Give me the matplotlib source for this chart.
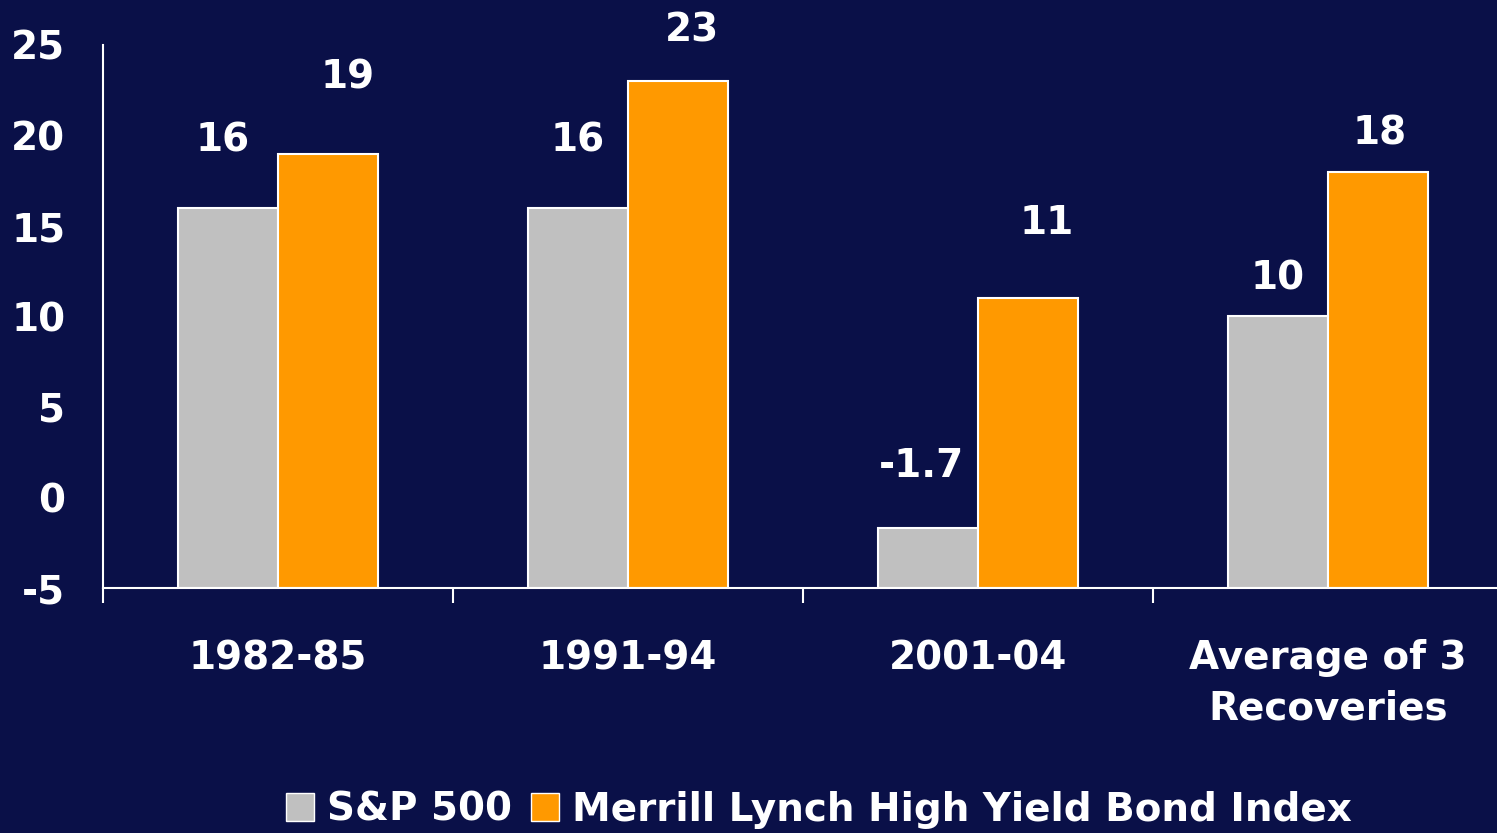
import numpy as np
import matplotlib.pyplot as plt
from matplotlib.patches import Patch

# data
kategori = ["1982-85", "1991-94", "2001-04", "Average of 3\nRecoveries"]
sp500 = [16, 16, -1.7, 10]
merrill = [19, 23, 11, 18]
label_sp = ["16", "16", "-1.7", "10"]
label_ml = ["19", "23", "11", "18"]
yticks = [-5, 0, 5, 10, 15, 20, 25]

# offset label (pixel) relatif ke puncak bar
off_sp = [(-5, 67), (0, 67), (-6, 62), (0, 38)]
off_ml = [(20, 76), (14, 51), (19, 75), (2, 38)]

bg = "#0a1048"
abu = "#c0c0c0"
oranye = "#ff9900"
dasar = -5

plt.rcParams["font.family"] = ["DejaVu Sans"]
plt.rcParams["font.weight"] = "bold"

fig = plt.figure(figsize=(14.97, 8.33), dpi=100, facecolor=bg)
ax = fig.add_axes([103 / 1497, 245 / 833, 1400 / 1497, 543 / 833])
ax.set_facecolor(bg)

x = np.arange(len(kategori))
w = 0.286
sp = np.array(sp500)
ml = np.array(merrill)
ax.bar(x - w / 2, sp - dasar, w, bottom=dasar, color=abu, edgecolor="white", linewidth=1.5)
ax.bar(x + w / 2, ml - dasar, w, bottom=dasar, color=oranye, edgecolor="white", linewidth=1.5)

for i in range(len(kategori)):
    ax.annotate(label_sp[i], (x[i] - w / 2, sp[i]), xytext=off_sp[i], textcoords="offset pixels",
                ha="center", va="center", color="white", fontsize=28, fontweight="bold")
    ax.annotate(label_ml[i], (x[i] + w / 2, ml[i]), xytext=off_ml[i], textcoords="offset pixels",
                ha="center", va="center", color="white", fontsize=28, fontweight="bold")

ax.set_xlim(-0.5, 3.5)
ax.set_ylim(-5, 25)
ax.set_yticks(yticks)
ax.set_yticklabels([str(t) for t in yticks])
ax.tick_params(axis="y", length=0, pad=27, labelsize=28, colors="white")

ax.set_xticks(x - 0.5)
ax.set_xticklabels([])
ax.tick_params(axis="x", which="major", length=11, width=1.5, color="white", direction="out")
ax.set_xticks(x, minor=True)
ax.set_xticklabels(kategori, minor=True, fontsize=28, fontweight="bold", color="white", linespacing=1.4)
ax.tick_params(axis="x", which="minor", length=0, pad=37)

for s in ["top", "right"]:
    ax.spines[s].set_visible(False)
ax.spines["left"].set_color("white")
ax.spines["bottom"].set_color("white")
ax.spines["left"].set_linewidth(1.5)
ax.spines["bottom"].set_linewidth(1.5)

handles = [Patch(facecolor=abu, edgecolor="white"), Patch(facecolor=oranye, edgecolor="white")]
fig.legend(handles, ["S&P 500", "Merrill Lynch High Yield Bond Index"], loc="center",
           bbox_to_anchor=(0.547, 0.028), ncol=2, frameon=False,
           prop={"weight": "bold", "size": 28}, labelcolor="white",
           handlelength=0.72, handleheight=0.72, handletextpad=0.33, columnspacing=0.5)

fig.savefig("out.png", dpi=100, facecolor=bg)
